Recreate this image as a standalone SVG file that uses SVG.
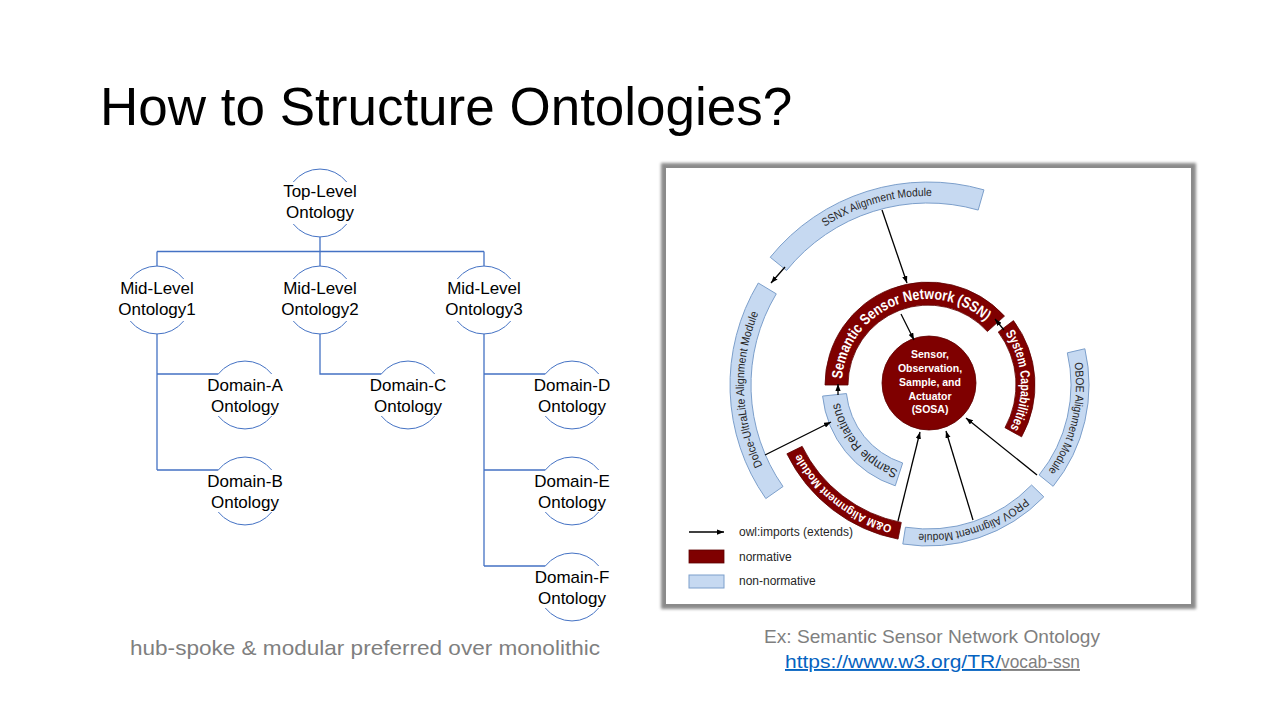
<svg xmlns="http://www.w3.org/2000/svg" width="1280" height="720" viewBox="0 0 1280 720">
  <defs>
    <style>
      .arc { fill: none; stroke: #4472C4; stroke-width: 1; }
      .tree-link { fill: none; stroke: #4472C4; stroke-width: 1.3; }
      .lbl { font-family: "Liberation Sans", Arial, sans-serif; font-size: 17px; fill: #000; text-anchor: middle; }
      .norm { fill: #7F0000; stroke: #5E0000; stroke-width: 0.8; }
      .nonnorm { fill: #C6D9F1; stroke: #7C9FCB; stroke-width: 1; }
      .wtxt { font-family: "Liberation Sans", Arial, sans-serif; font-weight: bold; fill: #fff; }
      .dtxt { font-family: "Liberation Sans", Arial, sans-serif; fill: #262626; }
      .imp { fill: none; stroke: #000; stroke-width: 1.3; marker-end: url(#head); }
      .gray { font-family: "Liberation Sans", Arial, sans-serif; fill: #7F7F7F; }
    </style>
    <marker id="head" viewBox="0 0 8 6" refX="8" refY="3" markerWidth="7" markerHeight="5.5" markerUnits="userSpaceOnUse" orient="auto">
      <path d="M0,0 L8,3 L0,6 Z" fill="#000"/>
    </marker>
    <filter id="soft" x="-5%" y="-5%" width="110%" height="110%">
      <feGaussianBlur stdDeviation="1.4"/>
    </filter>
    <!-- baselines for the ring labels, all running clockwise -->
    <path id="tp-ssn" d="M842.65,395.48 A86,86 0 0 1 996.68,333.24"/>
    <path id="tp-sys" d="M999.24,325.22 A93,93 0 0 1 1005.10,437.00"/>
    <path id="tp-sr" d="M904.71,471.93 A90,90 0 0 1 838.67,395.97"/>
    <path id="tp-om" d="M915.36,529.45 A145,145 0 0 1 790.90,432.21"/>
    <path id="tp-prov" d="M1042.14,480.78 A149,149 0 0 1 894.48,530.18"/>
    <path id="tp-oboe" d="M1068.76,339.27 A148,148 0 0 1 1032.65,489.65"/>
    <path id="tp-dolce" d="M777.28,490.54 A184,184 0 0 1 771.96,287.49"/>
    <path id="tp-ssnx" d="M787.55,258.53 A189,189 0 0 1 980.10,203.32"/>
  </defs>

  <rect width="1280" height="720" fill="#fff"/>

  <text x="100" y="125" font-family="'Liberation Sans', Arial, sans-serif" font-size="53" fill="#000">How to Structure Ontologies?</text>

  <!-- ontology hierarchy: connectors -->
  <g id="tree-connectors">
    <path class="tree-link" d="M320,237 V251.5 M157,251.5 H484 M157,251.5 V266 M320,251.5 V266 M484,251.5 V266"/>
    <path class="tree-link" d="M157,334 V470 M157,374 H218.3 M157,470 H218.3"/>
    <path class="tree-link" d="M320,334 V374 H381.3"/>
    <path class="tree-link" d="M484,334 V566 M484,374 H545.3 M484,470 H545.3 M484,566 H545.3"/>
  </g>

  <!-- ontology hierarchy: nodes (circle drawn as top and bottom arcs around the label) -->
  <g id="node-top">
    <path class="arc" d="M293.3,182 A34,34 0 0 1 346.7,182 M346.7,224 A34,34 0 0 1 293.3,224"/>
    <text class="lbl" x="320" y="197">Top-Level</text>
    <text class="lbl" x="320" y="218">Ontology</text>
  </g>
  <g id="node-mid1">
    <path class="arc" d="M130.3,279 A34,34 0 0 1 183.7,279 M183.7,321 A34,34 0 0 1 130.3,321"/>
    <text class="lbl" x="157" y="294">Mid-Level</text>
    <text class="lbl" x="157" y="315">Ontology1</text>
  </g>
  <g id="node-mid2">
    <path class="arc" d="M293.3,279 A34,34 0 0 1 346.7,279 M346.7,321 A34,34 0 0 1 293.3,321"/>
    <text class="lbl" x="320" y="294">Mid-Level</text>
    <text class="lbl" x="320" y="315">Ontology2</text>
  </g>
  <g id="node-mid3">
    <path class="arc" d="M457.3,279 A34,34 0 0 1 510.7,279 M510.7,321 A34,34 0 0 1 457.3,321"/>
    <text class="lbl" x="484" y="294">Mid-Level</text>
    <text class="lbl" x="484" y="315">Ontology3</text>
  </g>
  <g id="node-domain-a">
    <path class="arc" d="M218.3,374 A34,34 0 0 1 271.7,374 M271.7,416 A34,34 0 0 1 218.3,416"/>
    <text class="lbl" x="245" y="391">Domain-A</text>
    <text class="lbl" x="245" y="412">Ontology</text>
  </g>
  <g id="node-domain-b">
    <path class="arc" d="M218.3,470 A34,34 0 0 1 271.7,470 M271.7,512 A34,34 0 0 1 218.3,512"/>
    <text class="lbl" x="245" y="487">Domain-B</text>
    <text class="lbl" x="245" y="508">Ontology</text>
  </g>
  <g id="node-domain-c">
    <path class="arc" d="M381.3,374 A34,34 0 0 1 434.7,374 M434.7,416 A34,34 0 0 1 381.3,416"/>
    <text class="lbl" x="408" y="391">Domain-C</text>
    <text class="lbl" x="408" y="412">Ontology</text>
  </g>
  <g id="node-domain-d">
    <path class="arc" d="M545.3,374 A34,34 0 0 1 598.7,374 M598.7,416 A34,34 0 0 1 545.3,416"/>
    <text class="lbl" x="572" y="391">Domain-D</text>
    <text class="lbl" x="572" y="412">Ontology</text>
  </g>
  <g id="node-domain-e">
    <path class="arc" d="M545.3,470 A34,34 0 0 1 598.7,470 M598.7,512 A34,34 0 0 1 545.3,512"/>
    <text class="lbl" x="572" y="487">Domain-E</text>
    <text class="lbl" x="572" y="508">Ontology</text>
  </g>
  <g id="node-domain-f">
    <path class="arc" d="M545.3,566 A34,34 0 0 1 598.7,566 M598.7,608 A34,34 0 0 1 545.3,608"/>
    <text class="lbl" x="572" y="583">Domain-F</text>
    <text class="lbl" x="572" y="604">Ontology</text>
  </g>

  <text class="gray" x="130" y="655" font-size="21" textLength="470" lengthAdjust="spacingAndGlyphs">hub-spoke &amp; modular preferred over monolithic</text>

  <!-- SSN module figure -->
  <g id="figure-frame">
    <rect x="661" y="163" width="535" height="446" fill="#8a8a8a" filter="url(#soft)"/>
    <rect x="666" y="168" width="525" height="436" fill="#fff"/>
  </g>

  <g id="sosa">
    <circle cx="929" cy="383" r="47" class="norm"/>
    <g class="wtxt" font-size="10.5" text-anchor="middle">
      <text x="930" y="358">Sensor,</text>
      <text x="930" y="372">Observation,</text>
      <text x="930" y="386">Sample, and</text>
      <text x="930" y="400">Actuator</text>
      <text x="930" y="413">(SOSA)</text>
    </g>
  </g>
  <g id="ssn">
    <path class="norm" d="M825,385 A103,103 0 0 1 1004.5,316.1 L987.4,331.5 A80,80 0 0 0 848,385 Z"/>
    <text class="wtxt" font-size="15" text-anchor="middle"><textPath href="#tp-ssn" startOffset="50%" textLength="192" lengthAdjust="spacingAndGlyphs">Semantic Sensor Network (SSN)</textPath></text>
  </g>
  <g id="system-capabilities">
    <path class="norm" d="M1013.45,320.61 A107,107 0 0 1 1021.58,436.87 L1004.97,427.66 A88,88 0 0 0 998.28,332.04 Z"/>
    <text class="wtxt" font-size="13.5" text-anchor="middle"><textPath href="#tp-sys" startOffset="50%" textLength="100" lengthAdjust="spacingAndGlyphs">System Capabilities</textPath></text>
  </g>
  <g id="sample-relations">
    <path class="nonnorm" d="M895.24,485.81 A106,106 0 0 1 822.58,396.08 L846.45,393.57 A82,82 0 0 0 902.66,462.99 Z"/>
    <text class="dtxt" font-size="13" text-anchor="middle"><textPath href="#tp-sr" startOffset="50%" textLength="93" lengthAdjust="spacingAndGlyphs">Sample Relations</textPath></text>
  </g>
  <g id="om-alignment">
    <path class="norm" d="M898.04,539.12 A157,157 0 0 1 786.89,453.82 L802.17,446.37 A140,140 0 0 0 901.29,522.43 Z"/>
    <text class="wtxt" font-size="11.5" text-anchor="middle"><textPath href="#tp-om" startOffset="50%" textLength="120" lengthAdjust="spacingAndGlyphs">O&amp;M Alignment Module</textPath></text>
  </g>
  <g id="prov-alignment">
    <path class="nonnorm" d="M1043.81,496.84 A161,161 0 0 1 902.81,544.02 L905.47,527.23 A144,144 0 0 0 1031.59,485.03 Z"/>
    <text class="dtxt" font-size="11.5" text-anchor="middle"><textPath href="#tp-prov" startOffset="50%" textLength="115" lengthAdjust="spacingAndGlyphs">PROV Alignment Module</textPath></text>
  </g>
  <g id="oboe-alignment">
    <path class="nonnorm" d="M1084.87,348.78 A161,161 0 0 1 1053.12,486.32 L1039.13,474.99 A143,143 0 0 0 1067.33,352.83 Z"/>
    <text class="dtxt" font-size="11.5" text-anchor="middle"><textPath href="#tp-oboe" startOffset="50%" textLength="114" lengthAdjust="spacingAndGlyphs">OBOE Alignment Module</textPath></text>
  </g>
  <g id="dolce-alignment">
    <path class="nonnorm" d="M765.81,498.57 A198,198 0 0 1 758.28,283.02 L776.28,293.84 A177,177 0 0 0 783.01,486.52 Z"/>
    <text class="dtxt" font-size="11.5" text-anchor="middle"><textPath href="#tp-dolce" startOffset="50%" textLength="157" lengthAdjust="spacingAndGlyphs">Dolce-UltraLite Alignment Module</textPath></text>
  </g>
  <g id="ssnx-alignment">
    <path class="nonnorm" d="M770.24,257.25 A203,203 0 0 1 983.95,189.86 L978.17,210.05 A182,182 0 0 0 786.56,270.46 Z"/>
    <text class="dtxt" font-size="11.5" text-anchor="middle"><textPath href="#tp-ssnx" startOffset="50%" textLength="113" lengthAdjust="spacingAndGlyphs">SSNX Alignment Module</textPath></text>
  </g>

  <!-- owl:imports links -->
  <g id="imports">
    <line class="imp" x1="882" y1="210" x2="907" y2="283"/>
    <line class="imp" x1="785" y1="267" x2="771" y2="283"/>
    <line class="imp" x1="901" y1="314" x2="914" y2="340"/>
    <line class="imp" x1="1004" y1="330" x2="995" y2="319"/>
    <line class="imp" x1="838" y1="395" x2="838" y2="384"/>
    <line class="imp" x1="765" y1="455" x2="831" y2="422"/>
    <line class="imp" x1="898" y1="521" x2="920" y2="432"/>
    <line class="imp" x1="973" y1="520" x2="946" y2="431"/>
    <line class="imp" x1="1037" y1="475" x2="966" y2="418"/>
  </g>

  <g id="legend">
    <line class="imp" x1="689" y1="532" x2="724" y2="532"/>
    <text class="dtxt" x="739" y="536" font-size="12">owl:imports (extends)</text>
    <rect x="689" y="550" width="35" height="13" class="norm"/>
    <text class="dtxt" x="739" y="561" font-size="12">normative</text>
    <rect x="689" y="575" width="35" height="13" class="nonnorm"/>
    <text class="dtxt" x="739" y="585" font-size="12">non-normative</text>
  </g>

  <text class="gray" x="764" y="643" font-size="19" textLength="336" lengthAdjust="spacingAndGlyphs">Ex: Semantic Sensor Network Ontology</text>
  <text x="785" y="668" font-family="'Liberation Sans', Arial, sans-serif" font-size="19" fill="#0563C1" text-decoration="underline" textLength="216" lengthAdjust="spacingAndGlyphs">https://www.w3.org/TR/</text>
  <text class="gray" x="1001" y="668" font-size="19" text-decoration="underline" textLength="79" lengthAdjust="spacingAndGlyphs">vocab-ssn</text>
</svg>
